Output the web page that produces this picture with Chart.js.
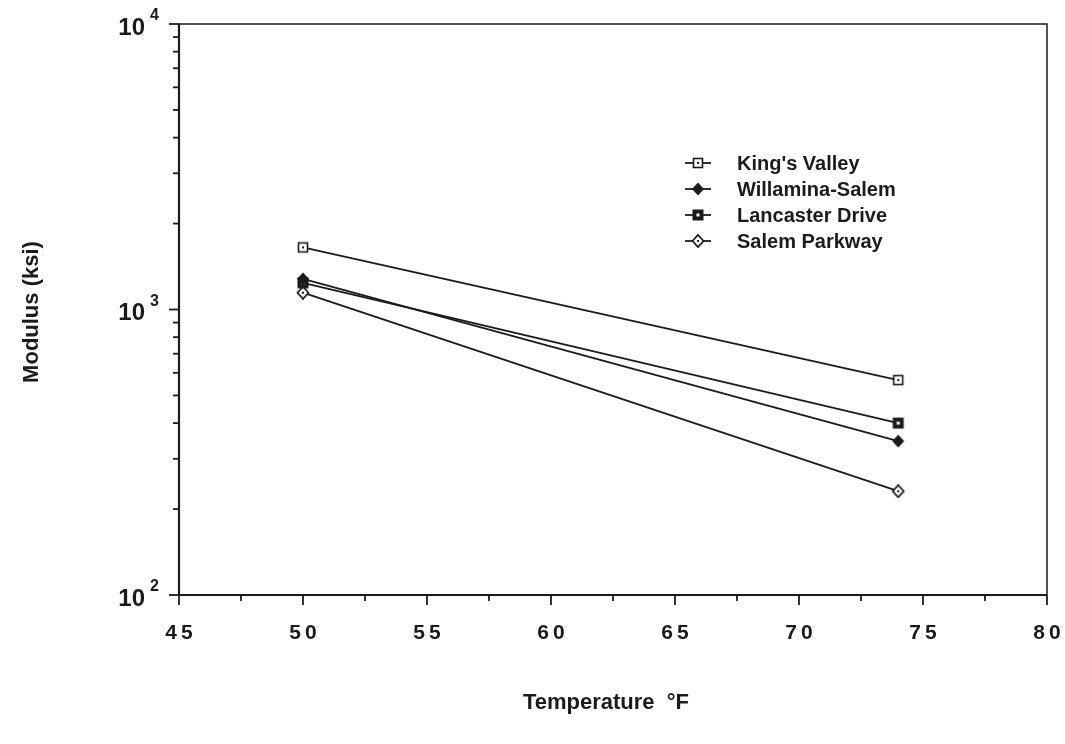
<!DOCTYPE html>
<html>
<head>
<meta charset="utf-8">
<title>Modulus vs Temperature</title>
<script src="https://cdn.jsdelivr.net/npm/chart.js@4.4.1/dist/chart.umd.min.js"></script>
<style>
  body { margin: 0; background: #fff; }
  canvas { display: block; }
</style>
</head>
<body>
<canvas id="chart" width="1065" height="744"></canvas>
<script>
// ---- data ----
const temps = [50, 74];
const seriesNames = ["King's Valley", "Willamina-Salem", "Lancaster Drive", "Salem Parkway"];
const kingsValley = [1650, 566];
const willaminaSalem = [1280, 346];
const lancasterDrive = [1240, 400];
const salemParkway = [1145, 231];

const xTicks = [45, 50, 55, 60, 65, 70, 75, 80];
const yDecades = [100, 1000, 10000];
const yExponents = ['2', '3', '4'];

const INK = '#1b1b1b';
const FONT = 'Liberation Sans, Arial, Helvetica, sans-serif';

// small canvases used as point styles
function makeMarker(kind) {
    const c = document.createElement('canvas');
    c.width = 14;
    c.height = 14;
    const g = c.getContext('2d');
    g.strokeStyle = INK;
    g.fillStyle = INK;
    if (kind === 'openSquare') {
        g.fillStyle = '#fff';
        g.fillRect(2, 2, 10, 10);
        g.lineWidth = 1.6;
        g.strokeRect(2.5, 2.5, 9, 9);
        g.fillStyle = INK;
        g.fillRect(6, 6, 2, 2);
    } else if (kind === 'boldSquare') {
        g.fillRect(1.5, 1.5, 11, 11);
        g.fillStyle = '#fff';
        g.fillRect(5.5, 5.5, 3, 3);
    } else if (kind === 'fullDiamond') {
        g.beginPath();
        g.moveTo(7, 0.5); g.lineTo(13, 7); g.lineTo(7, 13.5); g.lineTo(1, 7);
        g.closePath();
        g.fill();
    } else {
        g.beginPath();
        g.moveTo(7, 1); g.lineTo(12.5, 7); g.lineTo(7, 13); g.lineTo(1.5, 7);
        g.closePath();
        g.fillStyle = '#fff';
        g.fill();
        g.lineWidth = 1.8;
        g.stroke();
        g.fillStyle = INK;
        g.fillRect(6, 6, 2, 2);
    }
    return c;
}

const markers = [
    makeMarker('openSquare'),
    makeMarker('fullDiamond'),
    makeMarker('boldSquare'),
    makeMarker('openDiamond')
];

function toPoints(values) {
    return temps.map((t, i) => ({ x: t, y: values[i] }));
}

const allValues = [kingsValley, willaminaSalem, lancasterDrive, salemParkway];

const datasets = allValues.map((vals, i) => ({
    label: seriesNames[i],
    data: toPoints(vals),
    borderColor: INK,
    borderWidth: 1.8,
    pointStyle: markers[i],
    pointRadius: 7,
    tension: 0
}));

// frame, ticks, labels, titles and legend
const decorPlugin = {
    id: 'decor',
    afterDraw(chart) {
        const ctx = chart.ctx;
        const a = chart.chartArea;
        const xs = chart.scales.x;
        const ys = chart.scales.y;
        ctx.save();
        ctx.strokeStyle = INK;
        ctx.fillStyle = INK;

        // frame
        ctx.lineWidth = 1.5;
        ctx.beginPath();
        ctx.moveTo(a.left, a.top); ctx.lineTo(a.right, a.top); ctx.lineTo(a.right, a.bottom);
        ctx.stroke();
        ctx.lineWidth = 2.2;
        ctx.beginPath();
        ctx.moveTo(a.left, a.top); ctx.lineTo(a.left, a.bottom); ctx.lineTo(a.right, a.bottom);
        ctx.stroke();

        // x ticks (major + half steps)
        ctx.lineWidth = 1.8;
        for (let v = xTicks[0]; v <= xTicks[xTicks.length - 1] + 0.01; v += 2.5) {
            const px = xs.getPixelForValue(v);
            const major = Math.abs(v % 5) < 0.01;
            ctx.beginPath();
            ctx.moveTo(px, a.bottom);
            ctx.lineTo(px, a.bottom + (major ? 10 : 6));
            ctx.stroke();
        }

        // y ticks (decades + 2..9)
        for (let d = 0; d < yDecades.length; d++) {
            const py = ys.getPixelForValue(yDecades[d]);
            ctx.beginPath();
            ctx.moveTo(a.left, py);
            ctx.lineTo(a.left - 10, py);
            ctx.stroke();
            if (d < yDecades.length - 1) {
                for (let m = 2; m <= 9; m++) {
                    const pm = ys.getPixelForValue(yDecades[d] * m);
                    ctx.beginPath();
                    ctx.moveTo(a.left, pm);
                    ctx.lineTo(a.left - 6, pm);
                    ctx.stroke();
                }
            }
        }

        // x tick labels
        ctx.font = 'bold 21px ' + FONT;
        ctx.textAlign = 'center';
        ctx.textBaseline = 'middle';
        ctx.letterSpacing = '4px';
        xTicks.forEach(v => {
            ctx.fillText(String(v), xs.getPixelForValue(v) + 2, 633);
        });
        ctx.letterSpacing = '0px';

        // y tick labels 10^n
        yDecades.forEach((v, i) => {
            const py = ys.getPixelForValue(v);
            ctx.font = 'bold 24px ' + FONT;
            ctx.textAlign = 'right';
            ctx.textBaseline = 'middle';
            ctx.fillText('10', 145, py + 4);
            ctx.font = 'bold 16px ' + FONT;
            ctx.textAlign = 'left';
            ctx.fillText(yExponents[i], 150, py - 8);
        });

        // axis titles
        ctx.font = 'bold 22px ' + FONT;
        ctx.textAlign = 'center';
        ctx.textBaseline = 'middle';
        ctx.fillText('Temperature  \u00B0F', 606, 703);
        ctx.save();
        ctx.translate(32, 312);
        ctx.rotate(-Math.PI / 2);
        ctx.fillText('Modulus (ksi)', 0, 0);
        ctx.restore();

        // legend
        ctx.font = 'bold 20px ' + FONT;
        ctx.textAlign = 'left';
        ctx.textBaseline = 'middle';
        seriesNames.forEach((name, i) => {
            const ly = 163 + i * 26;
            ctx.lineWidth = 1.8;
            ctx.beginPath();
            ctx.moveTo(685, ly);
            ctx.lineTo(711, ly);
            ctx.stroke();
            ctx.drawImage(markers[i], 698 - 7, ly - 7);
            ctx.fillText(name, 737, ly + 1);
        });

        ctx.restore();
    }
};

new Chart(document.getElementById('chart'), {
    type: 'line',
    data: { datasets: datasets },
    options: {
        responsive: false,
        devicePixelRatio: 1,
        animation: false,
        layout: { padding: { left: 179, right: 18, top: 24, bottom: 149 } },
        scales: {
            x: { type: 'linear', min: 45, max: 80, display: false },
            y: { type: 'logarithmic', min: 100, max: 10000, display: false }
        },
        plugins: {
            legend: { display: false },
            tooltip: { enabled: false }
        }
    },
    plugins: [decorPlugin]
});
</script>
</body>
</html>
